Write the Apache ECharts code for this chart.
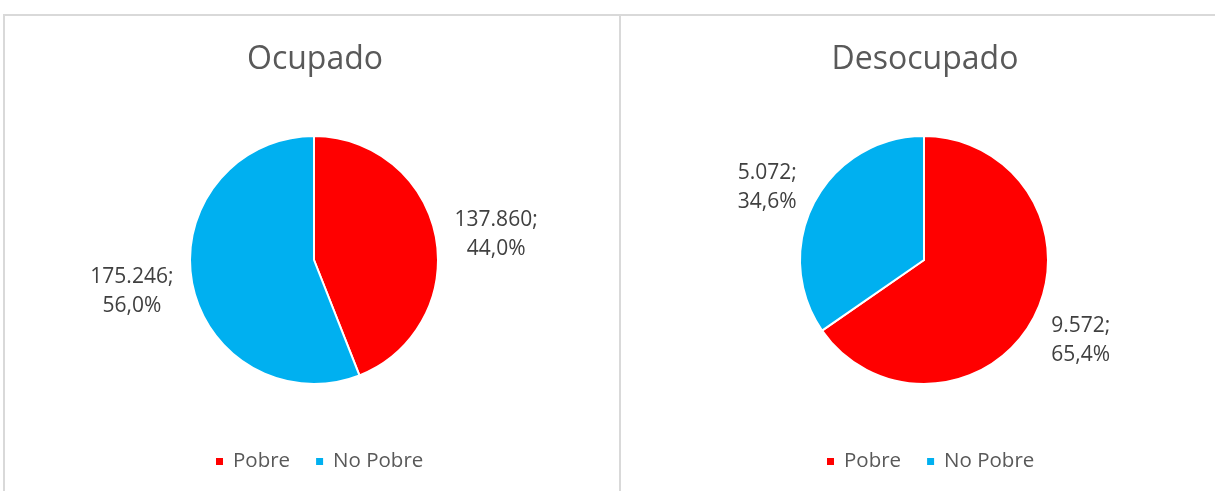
<!DOCTYPE html>
<html>
<head>
<meta charset="utf-8">
<script src="https://cdn.jsdelivr.net/npm/echarts@6/dist/echarts.min.js"></script>
<style>
    html, body { margin: 0; padding: 0; background: #fff; }
    .panel { position: absolute; top: 14px; height: 500px; border: 2px solid #d9d9d9; border-bottom: none; box-sizing: border-box; }
    #chart { position: absolute; left: 0; top: 0; width: 1215px; height: 491px; }
</style>
</head>
<body>
<div class="panel" style="left:3px; width:618px;"></div>
<div class="panel" style="left:619px; width:620px;"></div>
<div id="chart"></div>
<script>
    // datos
    var categorias = ['Pobre', 'No Pobre'];
    var titulos = ['Ocupado', 'Desocupado'];
    var ocupado = [137860, 175246];
    var desocupado = [9572, 5072];
    var colores = ['#ff0000', '#00b0f0'];

    // pequeño ajuste vertical de etiquetas (serie -> dato)
    var ajusteY = [[0, 6], [16, -8]];

    function fmtNum(v) {
        return String(v).replace(/\B(?=(\d{3})+(?!\d))/g, '.');
    }

    function serie(valores, centro, idx) {
        return {
            type: 'pie',
            center: centro,
            radius: 124,
            startAngle: 90,
            clockwise: true,
            avoidLabelOverlap: false,
            itemStyle: { borderColor: '#fff', borderWidth: 2 },
            label: {
                show: true,
                position: 'outside',
                color: '#404040',
                fontSize: 21,
                lineHeight: 29,
                fontFamily: 'Open Sans',
                formatter: function (p) {
                    return fmtNum(p.value) + ';\n' + p.percent.toFixed(1).replace('.', ',') + '%';
                }
            },
            labelLine: { show: false, length: 14, length2: 0 },
            // centrar las dos líneas del texto como en Excel
            labelLayout: function (p) {
                var w = p.labelRect.width;
                return {
                    align: 'center',
                    dx: p.align === 'right' ? -w / 2 : w / 2,
                    dy: ajusteY[idx][p.dataIndex]
                };
            },
            emphasis: { disabled: true },
            data: categorias.map(function (c, i) {
                return { name: c, value: valores[i], itemStyle: { color: colores[i] } };
            })
        };
    }

    var estiloTitulo = { color: '#595959', fontSize: 32, fontWeight: 'normal', fontFamily: 'Open Sans' };
    var estiloLeyenda = { color: '#595959', fontSize: 20.5, fontFamily: 'Open Sans', padding: [0, 0, 0, 4] };

    var myChart = echarts.init(document.getElementById('chart'));
    myChart.setOption({
        animation: false,
        color: colores,
        title: [
            { text: titulos[0], left: 310, top: 39, textAlign: 'center', textStyle: estiloTitulo },
            { text: titulos[1], left: 920, top: 39, textAlign: 'center', textStyle: estiloTitulo }
        ],
        legend: [
            { data: categorias, left: 209, top: 446, icon: 'rect', itemWidth: 9, itemHeight: 9, itemGap: 24, textStyle: estiloLeyenda },
            { data: categorias, left: 820, top: 446, icon: 'rect', itemWidth: 9, itemHeight: 9, itemGap: 24, textStyle: estiloLeyenda }
        ],
        series: [
            serie(ocupado, [314, 260], 0),
            serie(desocupado, [924, 260], 1)
        ]
    });
    window.addEventListener('resize', function () { myChart.resize(); });
</script>
</body>
</html>
